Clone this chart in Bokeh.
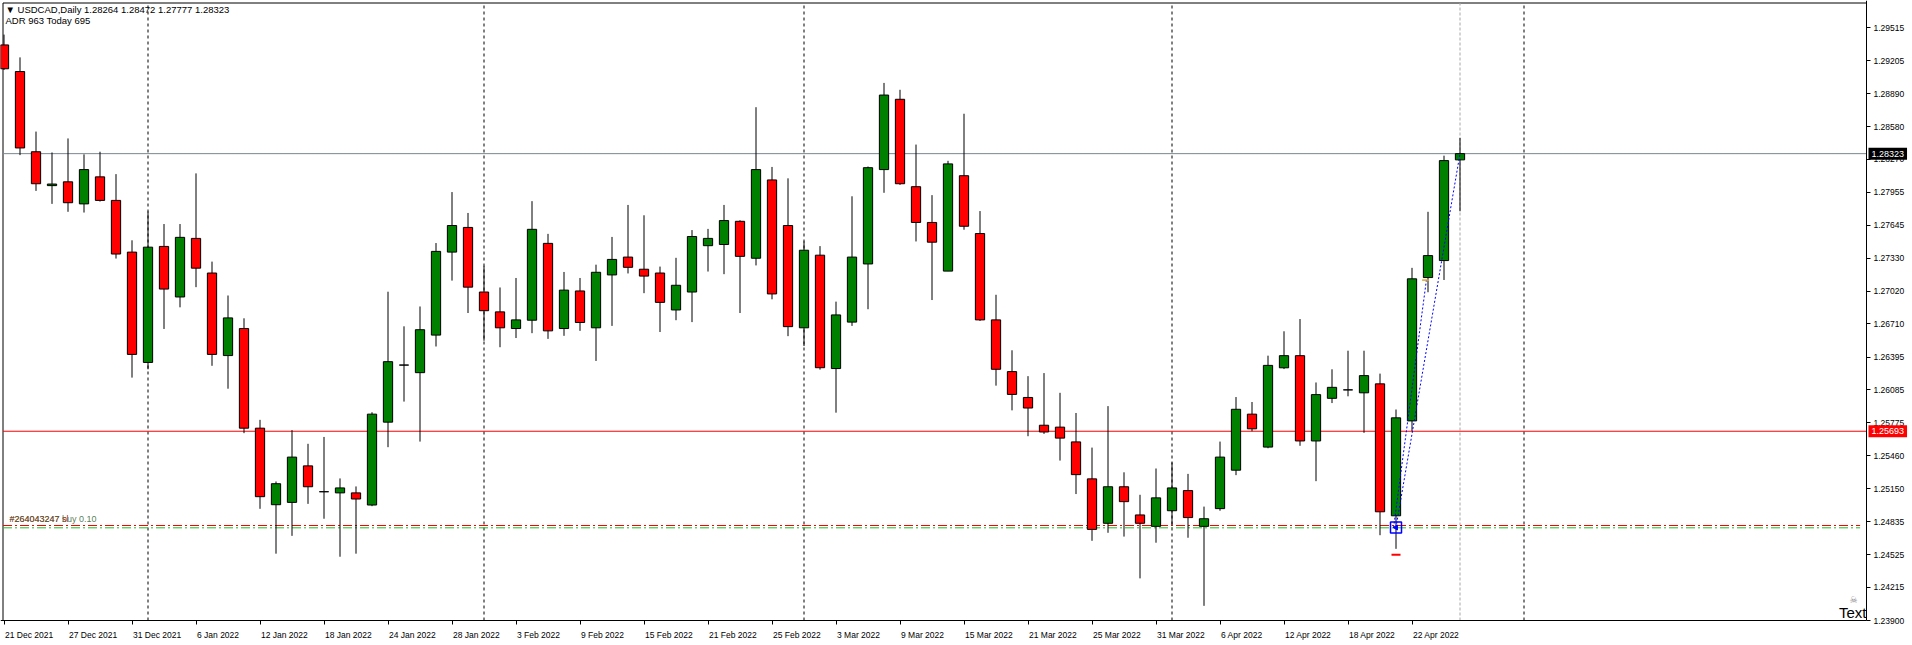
from bokeh.plotting import figure
from bokeh.models import (ColumnDataSource, Range1d, FixedTicker, CustomJSTickFormatter,
                          PrintfTickFormatter, Label)
from bokeh.embed import file_html
from bokeh.resources import INLINE

# ---------------- data ----------------
header_line1 = "\u25bc USDCAD,Daily  1.28264 1.28472 1.27777 1.28323"
header_line2 = "ADR 963  Today 695"

opens = [1.29353, 1.29101, 1.28341, 1.28020, 1.28056, 1.27847, 1.28103, 1.27880, 1.27390, 1.26345,
         1.27444, 1.26965, 1.27520, 1.27192, 1.26410, 1.26666, 1.25722, 1.24997, 1.25019, 1.25365,
         1.25120, 1.25109, 1.25109, 1.24994, 1.25779, 1.26320, 1.26248, 1.26604, 1.27390, 1.27624,
         1.27012, 1.26824, 1.26666, 1.26745, 1.27473, 1.26666, 1.27022, 1.26673, 1.27174, 1.27343,
         1.27228, 1.27192, 1.26842, 1.27012, 1.27451, 1.27462, 1.27682, 1.27332, 1.28074, 1.27642,
         1.26673, 1.27361, 1.26287, 1.26727, 1.27278, 1.28172, 1.28838, 1.28010, 1.27671, 1.27210,
         1.28114, 1.27566, 1.26748, 1.26258, 1.26013, 1.25750, 1.25732, 1.25592, 1.25242, 1.24821,
         1.25167, 1.24900, 1.24792, 1.24940, 1.25131, 1.24792, 1.24960, 1.25324, 1.25855, 1.25543,
         1.26294, 1.26409, 1.25601, 1.26005, 1.26085, 1.26057, 1.26142, 1.24892, 1.25791, 1.27149,
         1.27310, 1.28264]
highs = [1.29451, 1.29235, 1.28532, 1.28334, 1.28467, 1.28316, 1.28341, 1.28129, 1.27502, 1.27775,
         1.27656, 1.27656, 1.28136, 1.27300, 1.26979, 1.26763, 1.25801, 1.25217, 1.25704, 1.25574,
         1.25639, 1.25246, 1.25170, 1.25873, 1.27015, 1.26687, 1.26875, 1.27476, 1.27959, 1.27761,
         1.27260, 1.27055, 1.27145, 1.27873, 1.27563, 1.27202, 1.27145, 1.27271, 1.27534, 1.27837,
         1.27739, 1.27253, 1.27336, 1.27599, 1.27610, 1.27837, 1.27692, 1.28763, 1.28197, 1.28089,
         1.27491, 1.27447, 1.26921, 1.27919, 1.28201, 1.28993, 1.28928, 1.28409, 1.27930, 1.28255,
         1.28701, 1.27779, 1.26986, 1.26460, 1.26215, 1.26244, 1.26057, 1.25866, 1.25538, 1.25931,
         1.25304, 1.25091, 1.25340, 1.25397, 1.25289, 1.24979, 1.25595, 1.26017, 1.25970, 1.26409,
         1.26640, 1.26756, 1.26155, 1.26280, 1.26456, 1.26456, 1.26239, 1.25899, 1.27241, 1.27772,
         1.28304, 1.28472]
lows = [1.29116, 1.28309, 1.27970, 1.27847, 1.27772, 1.27765, 1.27869, 1.27329, 1.26201, 1.26280,
        1.26662, 1.26867, 1.27058, 1.26313, 1.26096, 1.25675, 1.24958, 1.24533, 1.24702, 1.25005,
        1.24864, 1.24504, 1.24533, 1.24983, 1.25542, 1.25974, 1.25595, 1.26496, 1.27120, 1.26813,
        1.26550, 1.26489, 1.26576, 1.26622, 1.26568, 1.26597, 1.26644, 1.26359, 1.26691, 1.27188,
        1.27001, 1.26633, 1.26745, 1.26727, 1.27206, 1.27181, 1.26813, 1.27264, 1.26943, 1.26594,
        1.26500, 1.26277, 1.25869, 1.26691, 1.26849, 1.27952, 1.28027, 1.27491, 1.26936, 1.27210,
        1.27602, 1.26738, 1.26125, 1.25891, 1.25646, 1.25668, 1.25415, 1.25098, 1.24655, 1.24731,
        1.24695, 1.24299, 1.24637, 1.24803, 1.24684, 1.24039, 1.24940, 1.25277, 1.25693, 1.25532,
        1.26282, 1.25555, 1.25220, 1.25960, 1.26024, 1.25678, 1.24708, 1.24579, 1.25693, 1.27010,
        1.27126, 1.27777]
closes = [1.29127, 1.28377, 1.28038, 1.28035, 1.27858, 1.28172, 1.27880, 1.27372, 1.26421, 1.27437,
          1.27040, 1.27530, 1.27238, 1.26421, 1.26767, 1.25722, 1.25073, 1.25196, 1.25448, 1.25167,
          1.25120, 1.25156, 1.25051, 1.25855, 1.26352, 1.26320, 1.26655, 1.27397, 1.27642, 1.27058,
          1.26835, 1.26673, 1.26748, 1.27606, 1.26644, 1.27030, 1.26723, 1.27199, 1.27321, 1.27246,
          1.27163, 1.26914, 1.27076, 1.27538, 1.27520, 1.27689, 1.27350, 1.28172, 1.26994, 1.26684,
          1.27408, 1.26295, 1.26795, 1.27343, 1.28190, 1.28878, 1.28038, 1.27671, 1.27484, 1.28226,
          1.27635, 1.26748, 1.26280, 1.26042, 1.25913, 1.25686, 1.25628, 1.25282, 1.24763, 1.25167,
          1.25026, 1.24821, 1.25062, 1.25156, 1.24875, 1.24864, 1.25448, 1.25901, 1.25716, 1.26317,
          1.26409, 1.25601, 1.26040, 1.26109, 1.26085, 1.26220, 1.24930, 1.25820, 1.27137, 1.27357,
          1.28257, 1.28323]

date_labels = ["21 Dec 2021", "27 Dec 2021", "31 Dec 2021", "6 Jan 2022", "12 Jan 2022",
               "18 Jan 2022", "24 Jan 2022", "28 Jan 2022", "3 Feb 2022", "9 Feb 2022",
               "15 Feb 2022", "21 Feb 2022", "25 Feb 2022", "3 Mar 2022", "9 Mar 2022",
               "15 Mar 2022", "21 Mar 2022", "25 Mar 2022", "31 Mar 2022", "6 Apr 2022",
               "12 Apr 2022", "18 Apr 2022", "22 Apr 2022"]
date_label_bars = [0, 4, 8, 12, 16, 20, 24, 28, 32, 36, 40, 44, 48, 52, 56, 60, 64, 68, 72, 76,
                   80, 84, 88]

price_ticks = [1.23900, 1.24215, 1.24525, 1.24835, 1.25150, 1.25460, 1.25775, 1.26085, 1.26395,
               1.26710, 1.27020, 1.27330, 1.27645, 1.27955, 1.28270, 1.28580, 1.28890, 1.29205,
               1.29515]

month_sep_bars = [9, 30, 50, 73, 95]
current_bar = 91
bid_price = 1.28323
hline_price = 1.25693
sl_price = 1.24800
buy_price = 1.24778
order_text_sl = "#264043247 sl"
order_text_buy = "#264043247 buy 0.10"
order_bar = 87
order_open = 1.24781
close_mark_price = 1.24523
trade_line_x = [87, 91]
trade_line_y = [1.24781, 1.28323]
trade_line2_x = [86.85, 88.9]
trade_line2_y = [1.24781, 1.27125]
trade_close_bar = 88.85
trade_close_price = 1.27125

# ---------------- layout ----------------
CANVAS_W, CANVAS_H = 1910, 643
BAR_PX = 16.0                           # horizontal pixels per bar
BAR0_PX = 3.5                           # pixel position of the first bar
AXIS_PX_X, AXIS_PX_Y = 1866, 620        # price-axis line x, time-axis line y (pixels)
PX_PRICE = 0.00009474                   # price per vertical pixel
X0 = -BAR0_PX / BAR_PX
X1 = X0 + CANVAS_W / BAR_PX
AXIS_X = X0 + AXIS_PX_X / BAR_PX
PRICE_MIN = price_ticks[0]              # time-axis line sits at the lowest price tick
Y0 = PRICE_MIN - (CANVAS_H - AXIS_PX_Y) * PX_PRICE
Y1 = PRICE_MIN + AXIS_PX_Y * PX_PRICE

FONT = "Liberation Sans"
AX_FS = 8.5

_w = {"0": .556, "1": .556, "2": .556, "3": .556, "4": .556, "5": .556, "6": .556, "7": .556,
      "8": .556, "9": .556, " ": .278, "D": .722, "e": .556, "c": .5, "J": .5, "a": .556,
      "n": .556, "F": .611, "b": .556, "M": .833, "r": .333, "A": .667, "p": .556}


def text_px(s, fs):
    return sum(_w.get(ch, .556) for ch in s) * fs


x_label_pos = [b + (text_px(t, AX_FS) / 2 + 1) / BAR_PX for b, t in zip(date_label_bars, date_labels)]

bars = list(range(len(opens)))
GREEN, RED = "#008000", "#ff0000"
src = ColumnDataSource(dict(
    x=bars, open=opens, high=highs, low=lows, close=closes,
    top=[max(o, c) for o, c in zip(opens, closes)],
    bottom=[min(o, c) for o, c in zip(opens, closes)],
    color=[GREEN if c > o else (RED if c < o else "black") for o, c in zip(opens, closes)],
))

p = figure(frame_width=CANVAS_W, frame_height=CANVAS_H,
           x_range=Range1d(X0, X1), y_range=Range1d(Y0, Y1),
           y_axis_location="right", output_backend="svg", toolbar_location=None,
           min_border_left=0, min_border_right=0, min_border_top=0, min_border_bottom=0,
           background_fill_color="white", border_fill_color="white",
           outline_line_color=None)
p.grid.visible = False

# x axis (time)
xa = p.xaxis[0]
xa.fixed_location = PRICE_MIN
xa.bounds = (X0, AXIS_X)
xa.ticker = FixedTicker(ticks=x_label_pos, minor_ticks=date_label_bars)
xa.formatter = CustomJSTickFormatter(args=dict(pos=x_label_pos, labs=date_labels), code="""
    for (let i = 0; i < pos.length; i++) { if (Math.abs(pos[i] - tick) < 1e-6) return labs[i]; }
    return "";
""")
xa.major_tick_out = 0
xa.major_tick_in = 0
xa.minor_tick_out = 4
xa.minor_tick_in = 0
xa.minor_tick_line_color = "black"
xa.major_label_standoff = 5
xa.major_label_text_font = FONT
xa.major_label_text_font_size = f"{AX_FS}px"
xa.major_label_text_color = "black"
xa.axis_line_color = "black"

# y axis (price)
ya = p.yaxis[0]
ya.fixed_location = AXIS_X
ya.bounds = (PRICE_MIN, Y1)
ya.ticker = FixedTicker(ticks=price_ticks)
ya.formatter = PrintfTickFormatter(format="%.5f")
ya.major_tick_out = 4
ya.major_tick_in = 0
ya.minor_tick_line_color = None
ya.major_label_standoff = 3
ya.major_label_text_font = FONT
ya.major_label_text_font_size = f"{AX_FS}px"
ya.major_label_text_color = "black"
ya.axis_line_color = "black"

# chart frame (left and top borders)
LEFT_X = X0 + 2.5 / BAR_PX
TOP_Y = Y1 - 2.5 * PX_PRICE
p.segment(x0=[LEFT_X], y0=[PRICE_MIN], x1=[LEFT_X], y1=[TOP_Y], line_color="black", line_width=1)
p.segment(x0=[LEFT_X], y0=[TOP_Y], x1=[AXIS_X], y1=[TOP_Y], line_color="black", line_width=1)

# period separators
p.segment(x0=month_sep_bars, y0=[PRICE_MIN] * len(month_sep_bars), x1=month_sep_bars,
          y1=[TOP_Y] * len(month_sep_bars), line_color="black", line_dash="3 3", line_width=1)
p.segment(x0=[current_bar], y0=[PRICE_MIN], x1=[current_bar], y1=[TOP_Y],
          line_color="#a8a8a8", line_dash="3 2", line_width=1)

# horizontal lines
p.segment(x0=[LEFT_X], y0=[bid_price], x1=[AXIS_X], y1=[bid_price], line_color="#7a8790", line_width=1)
p.segment(x0=[LEFT_X], y0=[hline_price], x1=[AXIS_X], y1=[hline_price], line_color="#ff0000", line_width=1)
p.segment(x0=[LEFT_X], y0=[sl_price], x1=[AXIS_X - 0.4], y1=[sl_price], line_color="#ff0000",
          line_dash="9 3 2 3", line_width=1.2)
p.segment(x0=[LEFT_X], y0=[buy_price], x1=[AXIS_X - 0.4], y1=[buy_price], line_color="#22bb22",
          line_dash="9 3 2 3", line_width=1)

# candles
p.segment(x0="x", y0="high", x1="x", y1="low", source=src, line_color="black", line_width=1)
p.vbar(x="x", width=0.58, top="top", bottom="bottom", source=src,
       fill_color="color", line_color="black", line_width=1)

# trade lines & markers
p.line(trade_line_x, trade_line_y, line_color="blue", line_dash="2 2", line_width=1)
p.line(trade_line2_x, trade_line2_y, line_color="blue", line_dash="2 2", line_width=1)
p.scatter([trade_close_bar], [trade_close_price], marker="dash", size=7, line_color="#e0a020",
          line_width=1.5)
p.scatter([order_bar], [order_open], marker="square", size=11, fill_color=None,
          line_color="blue", line_width=1.5)
p.scatter([order_bar], [order_open], marker="triangle", size=5, angle=1.5708,
          fill_color="blue", line_color="blue")
p.scatter([order_bar], [close_mark_price], marker="dash", size=9, line_color="red", line_width=2)

# texts
p.add_layout(Label(x=X0, y=Y1 - 3 * PX_PRICE, x_offset=5, text=header_line1, text_baseline="top",
                   text_font=FONT, text_font_size="9.5px", text_color="black"))
p.add_layout(Label(x=X0, y=Y1 - 14 * PX_PRICE, x_offset=5, text=header_line2, text_baseline="top",
                   text_font=FONT, text_font_size="9.5px", text_color="black"))
p.add_layout(Label(x=X0, y=sl_price + 2 * PX_PRICE, x_offset=9, text=order_text_sl,
                   text_baseline="bottom", text_font=FONT, text_font_size="9px", text_color="#cc2222"))
p.add_layout(Label(x=X0, y=sl_price + 2 * PX_PRICE, x_offset=9, text=order_text_buy,
                   text_baseline="bottom", text_font=FONT, text_font_size="9px", text_color="#336633",
                   text_alpha=0.85))
p.add_layout(Label(x=AXIS_X, y=PRICE_MIN, text="Text", text_align="right", text_baseline="bottom",
                   text_font=FONT, text_font_size="15px", text_color="black"))
p.add_layout(Label(x=AXIS_X - 13 / BAR_PX, y=PRICE_MIN + 16 * PX_PRICE, text="\u2620",
                   text_align="center", text_baseline="bottom", text_font="DejaVu Sans",
                   text_font_size="9px", text_color="#888888"))

# price boxes on the axis
p.add_layout(Label(x=AXIS_X, y=bid_price, x_offset=2, text=f"{bid_price:.5f}", text_baseline="middle",
                   text_font=FONT, text_font_size="9px", text_color="white",
                   background_fill_color="black", padding=3, level="overlay"))
p.add_layout(Label(x=AXIS_X, y=hline_price, x_offset=2, text=f"{hline_price:.5f}", text_baseline="middle",
                   text_font=FONT, text_font_size="9px", text_color="white",
                   background_fill_color="#ff0000", padding=3, level="overlay"))

open("out.html", "w").write(file_html(p, INLINE))
